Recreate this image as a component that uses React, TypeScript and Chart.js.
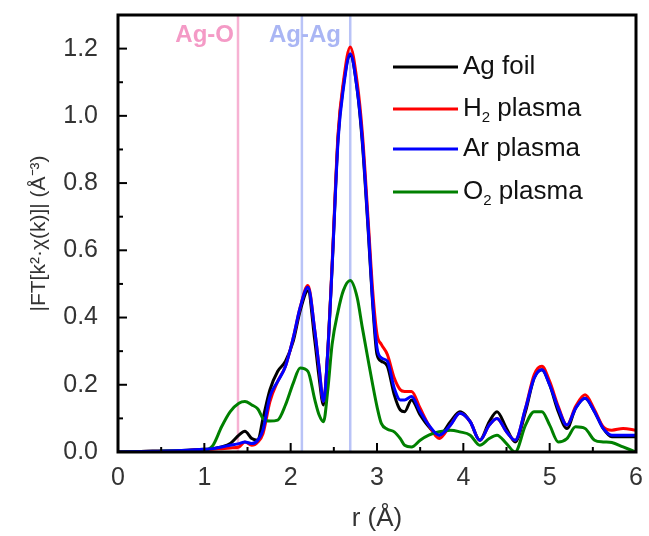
import React, { useEffect, useRef } from "react";
import { Chart, registerables } from "chart.js";

Chart.register(...registerables);

// Shared radial distance grid (Å)
const rValues = [
  0, 0.4, 0.8, 1.0, 1.1, 1.2, 1.3, 1.4, 1.47, 1.55, 1.62, 1.68, 1.76, 1.85, 1.94, 2.03, 2.11, 2.2, 2.28, 2.33,
  2.38, 2.43, 2.48, 2.55, 2.61, 2.69, 2.77, 2.83, 2.9, 2.95, 3.0, 3.05, 3.12, 3.2, 3.27, 3.32, 3.4, 3.5, 3.6, 3.72,
  3.85, 3.96, 4.08, 4.19, 4.3, 4.39, 4.5, 4.6, 4.72, 4.82, 4.91, 5.0, 5.1, 5.2, 5.3, 5.41, 5.52, 5.62, 5.72, 5.85, 6.0,
];

const agFoil = [
  0, 0.002, 0.005, 0.008, 0.01, 0.015, 0.025, 0.05, 0.062, 0.04, 0.035, 0.1, 0.185, 0.24, 0.27, 0.33, 0.42, 0.48, 0.33, 0.22,
  0.14, 0.3, 0.55, 0.94, 1.09, 1.18, 1.08, 0.92, 0.65, 0.44, 0.29, 0.27, 0.255, 0.17, 0.125, 0.12, 0.155, 0.11, 0.075, 0.05,
  0.09, 0.12, 0.09, 0.035, 0.09, 0.12, 0.07, 0.03, 0.12, 0.22, 0.245, 0.2, 0.12, 0.07, 0.13, 0.16, 0.12, 0.07, 0.045, 0.045, 0.045,
];

const h2Plasma = [
  0, 0.002, 0.004, 0.007, 0.008, 0.01, 0.012, 0.015, 0.03, 0.02, 0.03, 0.055, 0.15, 0.21, 0.255, 0.34, 0.43, 0.495, 0.36, 0.25,
  0.15, 0.3, 0.56, 0.95, 1.1, 1.205, 1.1, 0.95, 0.68, 0.48, 0.35, 0.32, 0.29, 0.22, 0.185, 0.18, 0.18, 0.13, 0.08, 0.04,
  0.08, 0.115, 0.09, 0.035, 0.08, 0.1, 0.06, 0.035, 0.13, 0.23, 0.255, 0.21, 0.135, 0.08, 0.135, 0.17, 0.125, 0.075, 0.065, 0.07, 0.065,
];

const arPlasma = [
  0, 0.002, 0.005, 0.008, 0.01, 0.015, 0.02, 0.025, 0.03, 0.025, 0.035, 0.066, 0.165, 0.21, 0.255, 0.34, 0.43, 0.49, 0.36, 0.25,
  0.15, 0.3, 0.55, 0.93, 1.08, 1.185, 1.08, 0.93, 0.66, 0.45, 0.31, 0.28, 0.27, 0.19, 0.155, 0.155, 0.165, 0.12, 0.08, 0.05,
  0.08, 0.115, 0.09, 0.035, 0.08, 0.1, 0.06, 0.035, 0.13, 0.22, 0.245, 0.2, 0.13, 0.08, 0.13, 0.16, 0.12, 0.07, 0.05, 0.05, 0.05,
];

const o2Plasma = [
  0, 0.002, 0.004, 0.005, 0.02, 0.075, 0.12, 0.145, 0.15, 0.14, 0.128, 0.1, 0.092, 0.095, 0.14, 0.205, 0.25, 0.24, 0.155, 0.11,
  0.09, 0.185, 0.32, 0.42, 0.48, 0.51, 0.46, 0.37, 0.27, 0.2, 0.135, 0.085, 0.068, 0.06, 0.04, 0.02, 0.015, 0.035, 0.05, 0.06,
  0.065, 0.06, 0.05, 0.02, 0.04, 0.05, 0.025, 0.0, 0.08, 0.12, 0.12, 0.08, 0.03, 0.04, 0.075, 0.07, 0.035, 0.03, 0.028, 0.015, 0.0,
];

const seriesNames = ["Ag foil", "H2 plasma", "Ar plasma", "O2 plasma"];
const seriesColors = ["#000000", "#ff0000", "#0000ff", "#008000"];
const seriesData = [agFoil, h2Plasma, arPlasma, o2Plasma];
const seriesOrder = [3, 2, 0, 1]; // lower order is drawn on top

// Reference bond positions
const refPositions = [1.39, 2.13, 2.69];
const refColors = ["#f7b2d3", "#b9c3f7", "#b9c3f7"];
const refLabels = ["Ag-O", "Ag-Ag"];

const xMajorTicks = [0, 1, 2, 3, 4, 5, 6];
const xMinorTicks = [0.5, 1.5, 2.5, 3.5, 4.5, 5.5];
const yMajorTicks = [0, 0.2, 0.4, 0.6, 0.8, 1.0, 1.2];
const yMinorTicks = [0.1, 0.3, 0.5, 0.7, 0.9, 1.1];

const FONT = "'Liberation Sans', Arial, sans-serif";

const refPlugin = {
  id: "refLines",
  beforeDatasetsDraw(chart: any) {
    const { ctx, chartArea, scales } = chart;
    const x = scales.x;
    ctx.save();
    refPositions.forEach((r, i) => {
      const px = x.getPixelForValue(r);
      ctx.strokeStyle = refColors[i];
      ctx.lineWidth = 2.5;
      ctx.beginPath();
      ctx.moveTo(px, chartArea.top);
      ctx.lineTo(px, chartArea.bottom);
      ctx.stroke();
    });
    ctx.font = `bold 24px ${FONT}`;
    ctx.textBaseline = "middle";
    ctx.fillStyle = "#f49ac6";
    ctx.textAlign = "right";
    ctx.fillText(refLabels[0], x.getPixelForValue(refPositions[0]) - 4, chartArea.top + 20);
    ctx.fillStyle = "#aab6f4";
    ctx.textAlign = "center";
    ctx.fillText(refLabels[1], x.getPixelForValue(refPositions[1]) + 3, chartArea.top + 20);
    ctx.restore();
  },
};

const framePlugin = {
  id: "frameTicks",
  afterDraw(chart: any) {
    const { ctx, chartArea, scales } = chart;
    const { left, right, top, bottom } = chartArea;
    ctx.save();
    ctx.strokeStyle = "#000";
    ctx.lineWidth = 2;
    const drawX = (vals: number[], len: number) => {
      vals.forEach((v) => {
        const px = scales.x.getPixelForValue(v);
        ctx.beginPath();
        ctx.moveTo(px, bottom);
        ctx.lineTo(px, bottom - len);
        ctx.stroke();
      });
    };
    const drawY = (vals: number[], len: number) => {
      vals.forEach((v) => {
        const py = scales.y.getPixelForValue(v);
        ctx.beginPath();
        ctx.moveTo(left, py);
        ctx.lineTo(left + len, py);
        ctx.stroke();
      });
    };
    drawX(xMajorTicks, 9);
    drawX(xMinorTicks, 5);
    drawY(yMajorTicks, 9);
    drawY(yMinorTicks, 5);
    ctx.lineWidth = 3;
    ctx.strokeRect(left, top, right - left, bottom - top);

    // Legend
    const legX = left + 275;
    const legY = [top + 52, top + 94, top + 134, top + 177];
    const parts = [
      [{ t: "Ag foil" }],
      [{ t: "H" }, { t: "2", sub: true }, { t: " plasma" }],
      [{ t: "Ar plasma" }],
      [{ t: "O" }, { t: "2", sub: true }, { t: " plasma" }],
    ];
    ctx.textBaseline = "middle";
    ctx.textAlign = "left";
    seriesNames.forEach((_, i) => {
      const y = legY[i];
      ctx.strokeStyle = seriesColors[i];
      ctx.lineWidth = 3;
      ctx.beginPath();
      ctx.moveTo(legX, y);
      ctx.lineTo(legX + 65, y);
      ctx.stroke();
      let tx = legX + 70;
      ctx.fillStyle = "#111";
      parts[i].forEach((p: any) => {
        if (p.sub) {
          ctx.font = `15px ${FONT}`;
          ctx.fillText(p.t, tx, y + 9);
        } else {
          ctx.font = `26px ${FONT}`;
          ctx.fillText(p.t, tx, y);
        }
        tx += ctx.measureText(p.t).width;
      });
    });
    ctx.restore();
  },
};

export default function App() {
  const canvasRef = useRef<HTMLCanvasElement>(null);
  useEffect(() => {
    if (!canvasRef.current) return;
    const chart = new Chart(canvasRef.current, {
      type: "line",
      data: {
        datasets: seriesData.map((vals, i) => ({
          label: seriesNames[i],
          data: rValues.map((r, j) => ({ x: r, y: vals[j] })),
          borderColor: seriesColors[i],
          backgroundColor: seriesColors[i],
          borderWidth: 3,
          pointRadius: 0,
          order: seriesOrder[i],
          cubicInterpolationMode: "monotone" as const,
          fill: false,
        })),
      },
      options: {
        animation: false,
        responsive: false,
        maintainAspectRatio: false,
        layout: { padding: { top: 15, right: 13, left: 0, bottom: 0 } },
        plugins: { legend: { display: false }, tooltip: { enabled: false } },
        scales: {
          x: {
            type: "linear",
            min: 0,
            max: 6,
            grid: { display: false },
            border: { display: false },
            afterBuildTicks: (s: any) => {
              s.ticks = xMajorTicks.map((v) => ({ value: v }));
            },
            afterFit: (s: any) => {
              s.height = 84;
              s.paddingLeft = 0;
              s.paddingRight = 0;
            },
            ticks: {
              padding: 3,
              color: "#333",
              font: { family: FONT, size: 25 },
              callback: (v: any) => String(v),
            },
            title: {
              display: true,
              text: "r (Å)",
              color: "#333",
              font: { family: FONT, size: 26 },
              padding: { top: 0, bottom: 2 },
            },
          },
          y: {
            type: "linear",
            min: 0,
            max: 1.3,
            grid: { display: false },
            border: { display: false },
            afterBuildTicks: (s: any) => {
              s.ticks = yMajorTicks.map((v) => ({ value: v }));
            },
            afterFit: (s: any) => {
              s.width = 118;
              s.paddingTop = 0;
              s.paddingBottom = 0;
            },
            ticks: {
              padding: 12,
              color: "#333",
              font: { family: FONT, size: 25 },
              callback: (v: any) => Number(v).toFixed(1),
            },
            title: {
              display: true,
              text: "|FT[k²·χ(k)]| (Å⁻³)",
              color: "#333",
              font: { family: FONT, size: 21 },
              padding: { top: 27, bottom: 0 },
            },
          },
        },
      },
      plugins: [refPlugin, framePlugin],
    });
    return () => chart.destroy();
  }, []);
  return (
    <div style={{ position: "fixed", left: 0, top: 0, width: 649, height: 536, background: "#fff" }}>
      <canvas ref={canvasRef} width={649} height={536} />
    </div>
  );
}
